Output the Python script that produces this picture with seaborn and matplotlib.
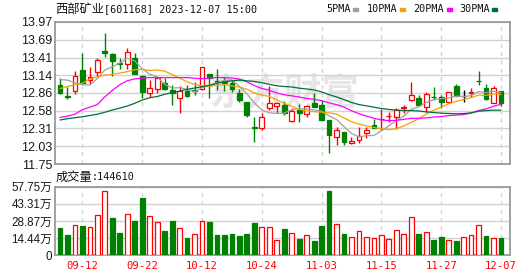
import numpy as np
import pandas as pd
import matplotlib
matplotlib.use("Agg")
import matplotlib.pyplot as plt
import seaborn as sns
from matplotlib.patches import Rectangle

# ---------------- data ----------------
dates = ["09-07", "09-08", "09-11", "09-12", "09-13", "09-14", "09-15", "09-18", "09-19", "09-20",
         "09-21", "09-22", "09-25", "09-26", "09-27", "09-28", "10-09", "10-10", "10-11", "10-12",
         "10-13", "10-16", "10-17", "10-18", "10-19", "10-20", "10-23", "10-24", "10-25", "10-26",
         "10-27", "10-30", "10-31", "11-01", "11-02", "11-03", "11-06", "11-07", "11-08", "11-09",
         "11-10", "11-13", "11-14", "11-15", "11-16", "11-17", "11-20", "11-21", "11-22", "11-23",
         "11-24", "11-27", "11-28", "11-29", "11-30", "12-01", "12-04", "12-05", "12-06", "12-07"]

opens = [12.985, 12.815, 12.885, 13.22, 13.065, 13.185, 13.515, 13.47, 13.32, 13.31,
         13.40, 13.13, 12.855, 12.917, 13.01, 12.907, 12.787, 12.891, 12.907, 12.917,
         13.15, 13.047, 13.047, 13.01, 12.855, 12.725, 12.33, 12.32, 12.631, 12.657,
         12.673, 12.424, 12.59, 12.528, 12.699, 12.673, 12.44, 12.18, 12.257, 12.076,
         12.128, 12.231, 12.361, 12.45, 12.495, 12.49, 12.625, 12.75, 12.776, 12.647,
         12.805, 12.80, 12.724, 12.968, 12.815, 12.865, 13.045, 12.942, 12.709, 12.89]
highs = [13.09, 12.95, 13.21, 13.49, 13.27, 13.40, 13.80, 13.475, 13.40, 13.555,
         13.49, 13.14, 13.06, 13.114, 13.088, 12.984, 12.969, 12.984, 13.036, 13.27,
         13.15, 13.233, 13.114, 13.062, 12.93, 12.725, 12.49, 12.543, 12.969, 12.725,
         12.735, 12.621, 12.683, 12.67, 12.855, 12.75, 12.44, 12.336, 12.257, 12.17,
         12.325, 12.335, 12.455, 12.605, 12.57, 12.62, 12.672, 13.036, 12.828, 12.88,
         12.958, 12.828, 12.874, 13.0, 12.906, 12.932, 13.2, 13.0, 12.968, 12.89]
lows = [12.845, 12.76, 12.845, 13.0, 12.995, 13.12, 13.42, 13.12, 13.23, 13.24,
        13.15, 12.78, 12.79, 12.855, 12.907, 12.673, 12.543, 12.803, 12.829, 12.907,
        12.787, 12.907, 12.89, 12.88, 12.725, 12.49, 12.10, 12.284, 12.595, 12.543,
        12.517, 12.413, 12.413, 12.49, 12.647, 12.44, 11.93, 12.05, 12.05, 12.065,
        12.086, 12.153, 12.31, 12.283, 12.413, 12.294, 12.543, 12.74, 12.657, 12.569,
        12.75, 12.62, 12.698, 12.813, 12.724, 12.80, 12.984, 12.75, 12.698, 12.657]
closes = [12.865, 12.805, 13.122, 13.02, 13.105, 13.375, 13.475, 13.365, 13.305, 13.495,
          13.155, 12.87, 12.935, 13.099, 12.93, 12.855, 12.891, 12.818, 12.891, 13.26,
          13.088, 13.026, 13.02, 12.93, 12.751, 12.517, 12.31, 12.481, 12.699, 12.705,
          12.543, 12.579, 12.553, 12.663, 12.647, 12.44, 12.206, 12.284, 12.102, 12.112,
          12.19, 12.283, 12.31, 12.46, 12.505, 12.595, 12.635, 12.828, 12.672, 12.844,
          12.80, 12.724, 12.87, 12.813, 12.815, 12.875, 13.04, 12.771, 12.932, 12.709]
volumes = [23.3, 17.1, 25.2, 24.7, 23.5, 33.6, 53.8, 31.4, 18.8, 34.5,
           28.9, 48.2, 32.8, 27.8, 20.5, 28.9, 22.7, 14.6, 17.7, 28.9,
           28.0, 17.1, 17.1, 17.9, 16.3, 17.9, 27.2, 23.5, 24.1, 12.9,
           22.1, 18.5, 13.7, 16.8, 12.1, 24.7, 54.1, 26.1, 17.9, 15.1,
           20.2, 15.1, 14.3, 16.8, 13.5, 21.3, 17.7, 32.0, 17.9, 19.3,
           12.9, 15.1, 12.9, 12.1, 15.1, 16.8, 25.2, 16.3, 14.3, 14.461]

ma5_head = [13.07, 13.06, 13.02, 12.99]
ma10_head = [12.93, 12.96, 12.99, 13.01, 13.08, 13.11, 13.14, 13.15, 13.17]
ma20_head = [12.48, 12.50, 12.53, 12.60, 12.64, 12.68, 12.80, 12.90, 12.99, 13.05,
             13.08, 13.09, 13.10, 13.10, 13.10, 13.10, 13.10, 13.10, 13.09]
ma30_head = [12.44, 12.46, 12.475, 12.49, 12.51, 12.53, 12.56, 12.595, 12.625, 12.657,
             12.70, 12.75, 12.787, 12.805, 12.84, 12.865, 12.89, 12.917, 12.937, 12.958,
             12.978, 13.01, 13.035, 13.05, 13.06, 13.05, 13.04, 13.02, 12.995]

price_ticks = [11.75, 12.03, 12.31, 12.58, 12.86, 13.14, 13.41, 13.69, 13.97]
vol_ticks = [0, 14.44, 28.87, 43.31, 57.75]
vol_tick_labels = ["0", "14.44万", "28.87万", "43.31万", "57.75万"]
date_labels = ["09-12", "09-22", "10-12", "10-24", "11-03", "11-15", "11-27", "12-07"]
title_name = "西部矿业"
title_rest = "[601168] 2023-12-07 15:00"
vol_title = "成交量"
vol_value = ":144610"
ma_names = ["5PMA", "10PMA", "20PMA", "30PMA"]

# ---------------- style ----------------
sns.set_theme(style="white")
plt.rcParams["font.family"] = ["DejaVu Sans", "Noto Sans CJK SC"]

RED = "#ff0000"
GREEN = "#008000"
MA_COLORS = ["#a0a0a0", "#f5a200", "#ff00ff", "#00703a"]
FRAME = "#9a9a9a"
GRID = "#d2d2d2"
W, H = 530, 276

fig = plt.figure(figsize=(W / 100, H / 100), dpi=100)
fig.patch.set_facecolor("white")

def box(l, t, r, b):
    return [l / W, 1 - b / H, (r - l) / W, (b - t) / H]

ax = fig.add_axes(box(55, 21.7, 509.5, 164.3))
axv = fig.add_axes(box(55, 186.7, 509.5, 255.3))

x = np.arange(len(dates))
O = np.array(opens); C = np.array(closes)
Hh = np.array(highs); L = np.array(lows)

cand_col = np.where(C > O, RED, np.where(C < O, GREEN, "#000000"))
cand_face = np.where(C > O, "white", cand_col)

xmin, xmax = -0.67, 60.14
date_idx = [dates.index(d) for d in date_labels]

for a in (ax, axv):
    a.set_xlim(xmin, xmax)
    a.set_xticks(date_idx)
    a.xaxis.grid(True, color=GRID, lw=1.0, ls=(0, (3, 3)))
    a.yaxis.grid(True, color=GRID, lw=1.0)
    a.set_axisbelow(True)
    for s in a.spines.values():
        s.set_color(FRAME)
        s.set_linewidth(1.3)
    a.tick_params(length=0)
    a.set_facecolor("white")

# watermark
ax.text(0.505, 0.49, "东方财富", transform=ax.transAxes, fontsize=27,
        color="#e6e6e6", ha="center", va="center", family="Noto Sans CJK SC",
        fontweight="bold", zorder=0.5)

# candles
ax.vlines(x, L, Hh, colors=cand_col, linewidth=1.0, zorder=3)
body_h = np.maximum(np.abs(C - O), 0.005)
ax.bar(x, body_h, bottom=np.minimum(O, C), width=0.64, color=cand_face,
       edgecolor=cand_col, linewidth=0.9, zorder=4)

# moving averages
cs = pd.Series(C)
for n, head, col in zip([5, 10, 20, 30], [ma5_head, ma10_head, ma20_head, ma30_head], MA_COLORS):
    m = cs.rolling(n).mean().to_numpy()
    m[:len(head)] = head
    sns.lineplot(x=x, y=m, ax=ax, color=col, linewidth=0.9, legend=False, zorder=5)

ax.set_ylim(11.75, 13.97)
ax.set_yticks(price_ticks)
ax.set_yticklabels([f"{v:.2f}" for v in price_ticks], family="Liberation Sans",
                   fontsize=9, color="#1a1a1a")
ax.set_xticklabels([])
ax.tick_params(axis="y", pad=2)
ax.set_xlabel(""); ax.set_ylabel("")

# volume
prev = np.concatenate([[O[0]], C[:-1]])
vcol = np.where(C >= prev, RED, GREEN)
vface = np.where(vcol == RED, "white", vcol)
axv.bar(x, volumes, width=0.64, color=vface, edgecolor=vcol, linewidth=0.9, zorder=3)
axv.set_ylim(0, 57.75)
axv.set_yticks(vol_ticks)
axv.set_yticklabels(vol_tick_labels, family=["Liberation Sans", "Noto Sans CJK SC"],
                    fontsize=8.4, color="#1a1a1a")
axv.set_xticklabels(date_labels, family="DejaVu Sans Mono", fontsize=7.6, color=RED)
axv.tick_params(axis="y", pad=2)
axv.tick_params(axis="x", pad=4)

# header texts
fig.text(55.5 / W, 1 - 9.5 / H, title_name, family="Noto Sans CJK SC",
         fontsize=8.8, va="center", ha="left", color="#111111")
fig.text(104 / W, 1 - 9.5 / H, title_rest, family="DejaVu Sans Mono",
         fontsize=7.3, va="center", ha="left", color="#111111")
fig.text(55.5 / W, 1 - 177 / H, vol_title, family="Noto Sans CJK SC",
         fontsize=8.8, va="center", ha="left", color="#111111")
fig.text(92 / W, 1 - 177 / H, vol_value, family="DejaVu Sans Mono",
         fontsize=7.3, va="center", ha="left", color="#111111")

leg_x = [326, 367, 413, 459]
sq_x = [353, 400, 447, 492]
for name, lx, sx, col in zip(ma_names, leg_x, sq_x, MA_COLORS):
    fig.text(lx / W, 1 - 9.5 / H, name, family="DejaVu Sans Mono", fontsize=7.3,
             va="center", ha="left", color="#111111")
    fig.patches.append(Rectangle((sx / W, 1 - 11 / H), 5 / W, 3 / H,
                                 transform=fig.transFigure, color=col, figure=fig))

fig.savefig("out.png", dpi=100, facecolor="white")
